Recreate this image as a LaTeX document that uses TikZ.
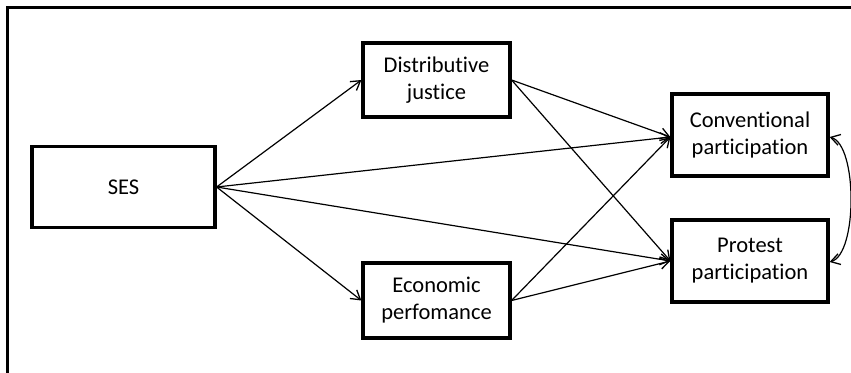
\documentclass[tikz,border=0pt]{standalone}
\usepackage{fontspec}
\setmainfont{Carlito}[Ligatures={NoCommon}]
\usetikzlibrary{arrows.meta}
\begin{document}
\begin{tikzpicture}[x=1pt,y=-1pt,
  var/.style={draw,line width=3.2pt,minimum width=147pt,align=center,inner sep=0pt,
    font=\fontsize{22.5}{27}\selectfont},
  conn/.style={line width=1.2pt,-{Straight Barb[length=9pt,width=11pt,line width=1.3pt]}},
  both/.style={line width=1.2pt,{Straight Barb[length=9pt,width=11pt,line width=1.3pt]}-{Straight Barb[length=9pt,width=11pt,line width=1.3pt]}}]
\useasboundingbox (0,0) rectangle (851,372);
\begin{scope}
\clip (0,0) rectangle (851,372);
\draw[line width=3pt] (7.5,380) -- (7.5,7) -- (860,7);
\end{scope}
\node[var,minimum width=183pt,minimum height=81pt] (ses) at (123.5,187) {SES};
\node[var,minimum height=74pt] (dj) at (436.5,80) {Distributive\\justice};
\node[var,minimum height=75pt] (ep) at (436.5,300.5) {Economic\\perfomance};
\node[var,minimum width=156pt,minimum height=82pt] (cp) at (750,135) {Conventional\\participation};
\node[var,minimum width=156pt,minimum height=82pt] (pp) at (750,261) {Protest\\participation};
\coordinate (cin) at ([yshift=-2pt]cp.west);
\coordinate (pin) at (pp.west);
\draw[conn] (ses.east) -- (dj.west);
\draw[conn] (ses.east) -- (ep.west);
\draw[conn] (ses.east) -- (cin);
\draw[conn] (ses.east) -- (pin);
\draw[conn] (dj.east) -- (cin);
\draw[conn] (dj.east) -- (pin);
\draw[conn] (ep.east) -- (cin);
\draw[conn] (ep.east) -- (pin);
\draw[both] ([yshift=-2pt]cp.east) .. controls +(28,8) and +(28,-8) .. ([yshift=-1pt]pp.east);
\end{tikzpicture}
\end{document}
